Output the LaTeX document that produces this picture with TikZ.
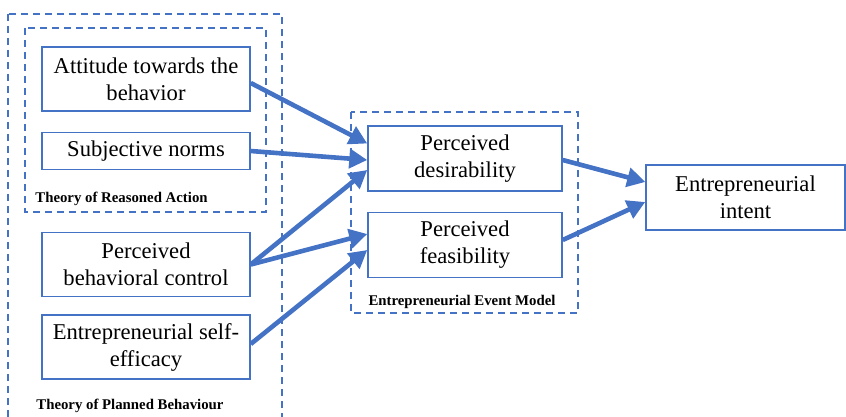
\documentclass[tikz,border=0pt]{standalone}
\usepackage{fontspec}
\setmainfont{Liberation Serif}
\usepackage{tikz}
\usetikzlibrary{arrows.meta, positioning, calc}
\definecolor{boxblue}{HTML}{4472C4}

\begin{document}
\begin{tikzpicture}[
  x=0.5pt, y=-0.5pt,
  box/.style={rectangle, draw=boxblue, line width=0.75pt, align=center, fill=white,
              inner sep=0pt, font=\fontsize{11.3}{13.5}\selectfont},
  factor/.style={box, minimum width=104pt, minimum height=32pt},
  stagebox/.style={box, minimum width=97pt, minimum height=32.5pt},
  groupbox/.style={draw=boxblue, line width=0.9pt, dash pattern=on 3.5pt off 2.5pt},
  grouplabel/.style={font=\bfseries\fontsize{7.4}{9}\selectfont, inner sep=0pt},
  arrow/.style={-{Triangle[length=9pt, width=9.5pt]}, line width=2.3pt, color=boxblue},
]
\useasboundingbox (0,0) rectangle (846,417);

% groups
\draw[groupbox] (8,14) rectangle (282,440);
\draw[groupbox] (25,28) rectangle (266,212);
\draw[groupbox] (351,112) rectangle (578,313);

\node[grouplabel, anchor=west] (tra) at (35,199) {Theory of Reasoned Action};
\node[grouplabel, anchor=west] (tpb) at (36,406) {Theory of Planned Behaviour};
\node[grouplabel] (eem) at (462,302) {Entrepreneurial Event Model};

% antecedents
\node[factor] (att) at (146,79) {Attitude towards the\\behavior};
\node[factor, minimum height=18.5pt, below=10pt of att] (subj) {Subjective norms};
\node[factor] (pbc) at (146,264.5) {Perceived\\behavioral control};
\node[factor, below=8.5pt of pbc] (ese) {Entrepreneurial self-\\efficacy};

% perceptions
\node[stagebox] (des) at (465,158.5) {Perceived\\desirability};
\node[stagebox, below=10pt of des] (fea) {Perceived\\feasibility};

\node[box, minimum width=99.5pt, minimum height=32.5pt] (intent) at (745.5,197.5)
  {Entrepreneurial\\intent};

\draw[arrow] ($(att.east)+(0,4)$) -- ($(des.west)+(0,-15)$);
\draw[arrow] (subj.east) -- ($(des.west)+(0,1.5)$);
\draw[arrow] (pbc.east) -- ($(des.west)+(0,11.5)$);
\draw[arrow] (pbc.east) -- ($(fea.west)+(0,-11)$);
\draw[arrow] ($(ese.east)+(0,-3)$) -- ($(fea.west)+(0,5)$);
\draw[arrow] ($(des.east)+(0,1.5)$) -- ($(intent.west)+(0,-15.5)$);
\draw[arrow] ($(fea.east)+(0,-5)$) -- ($(intent.west)+(0,4.5)$);

\end{tikzpicture}
\end{document}
